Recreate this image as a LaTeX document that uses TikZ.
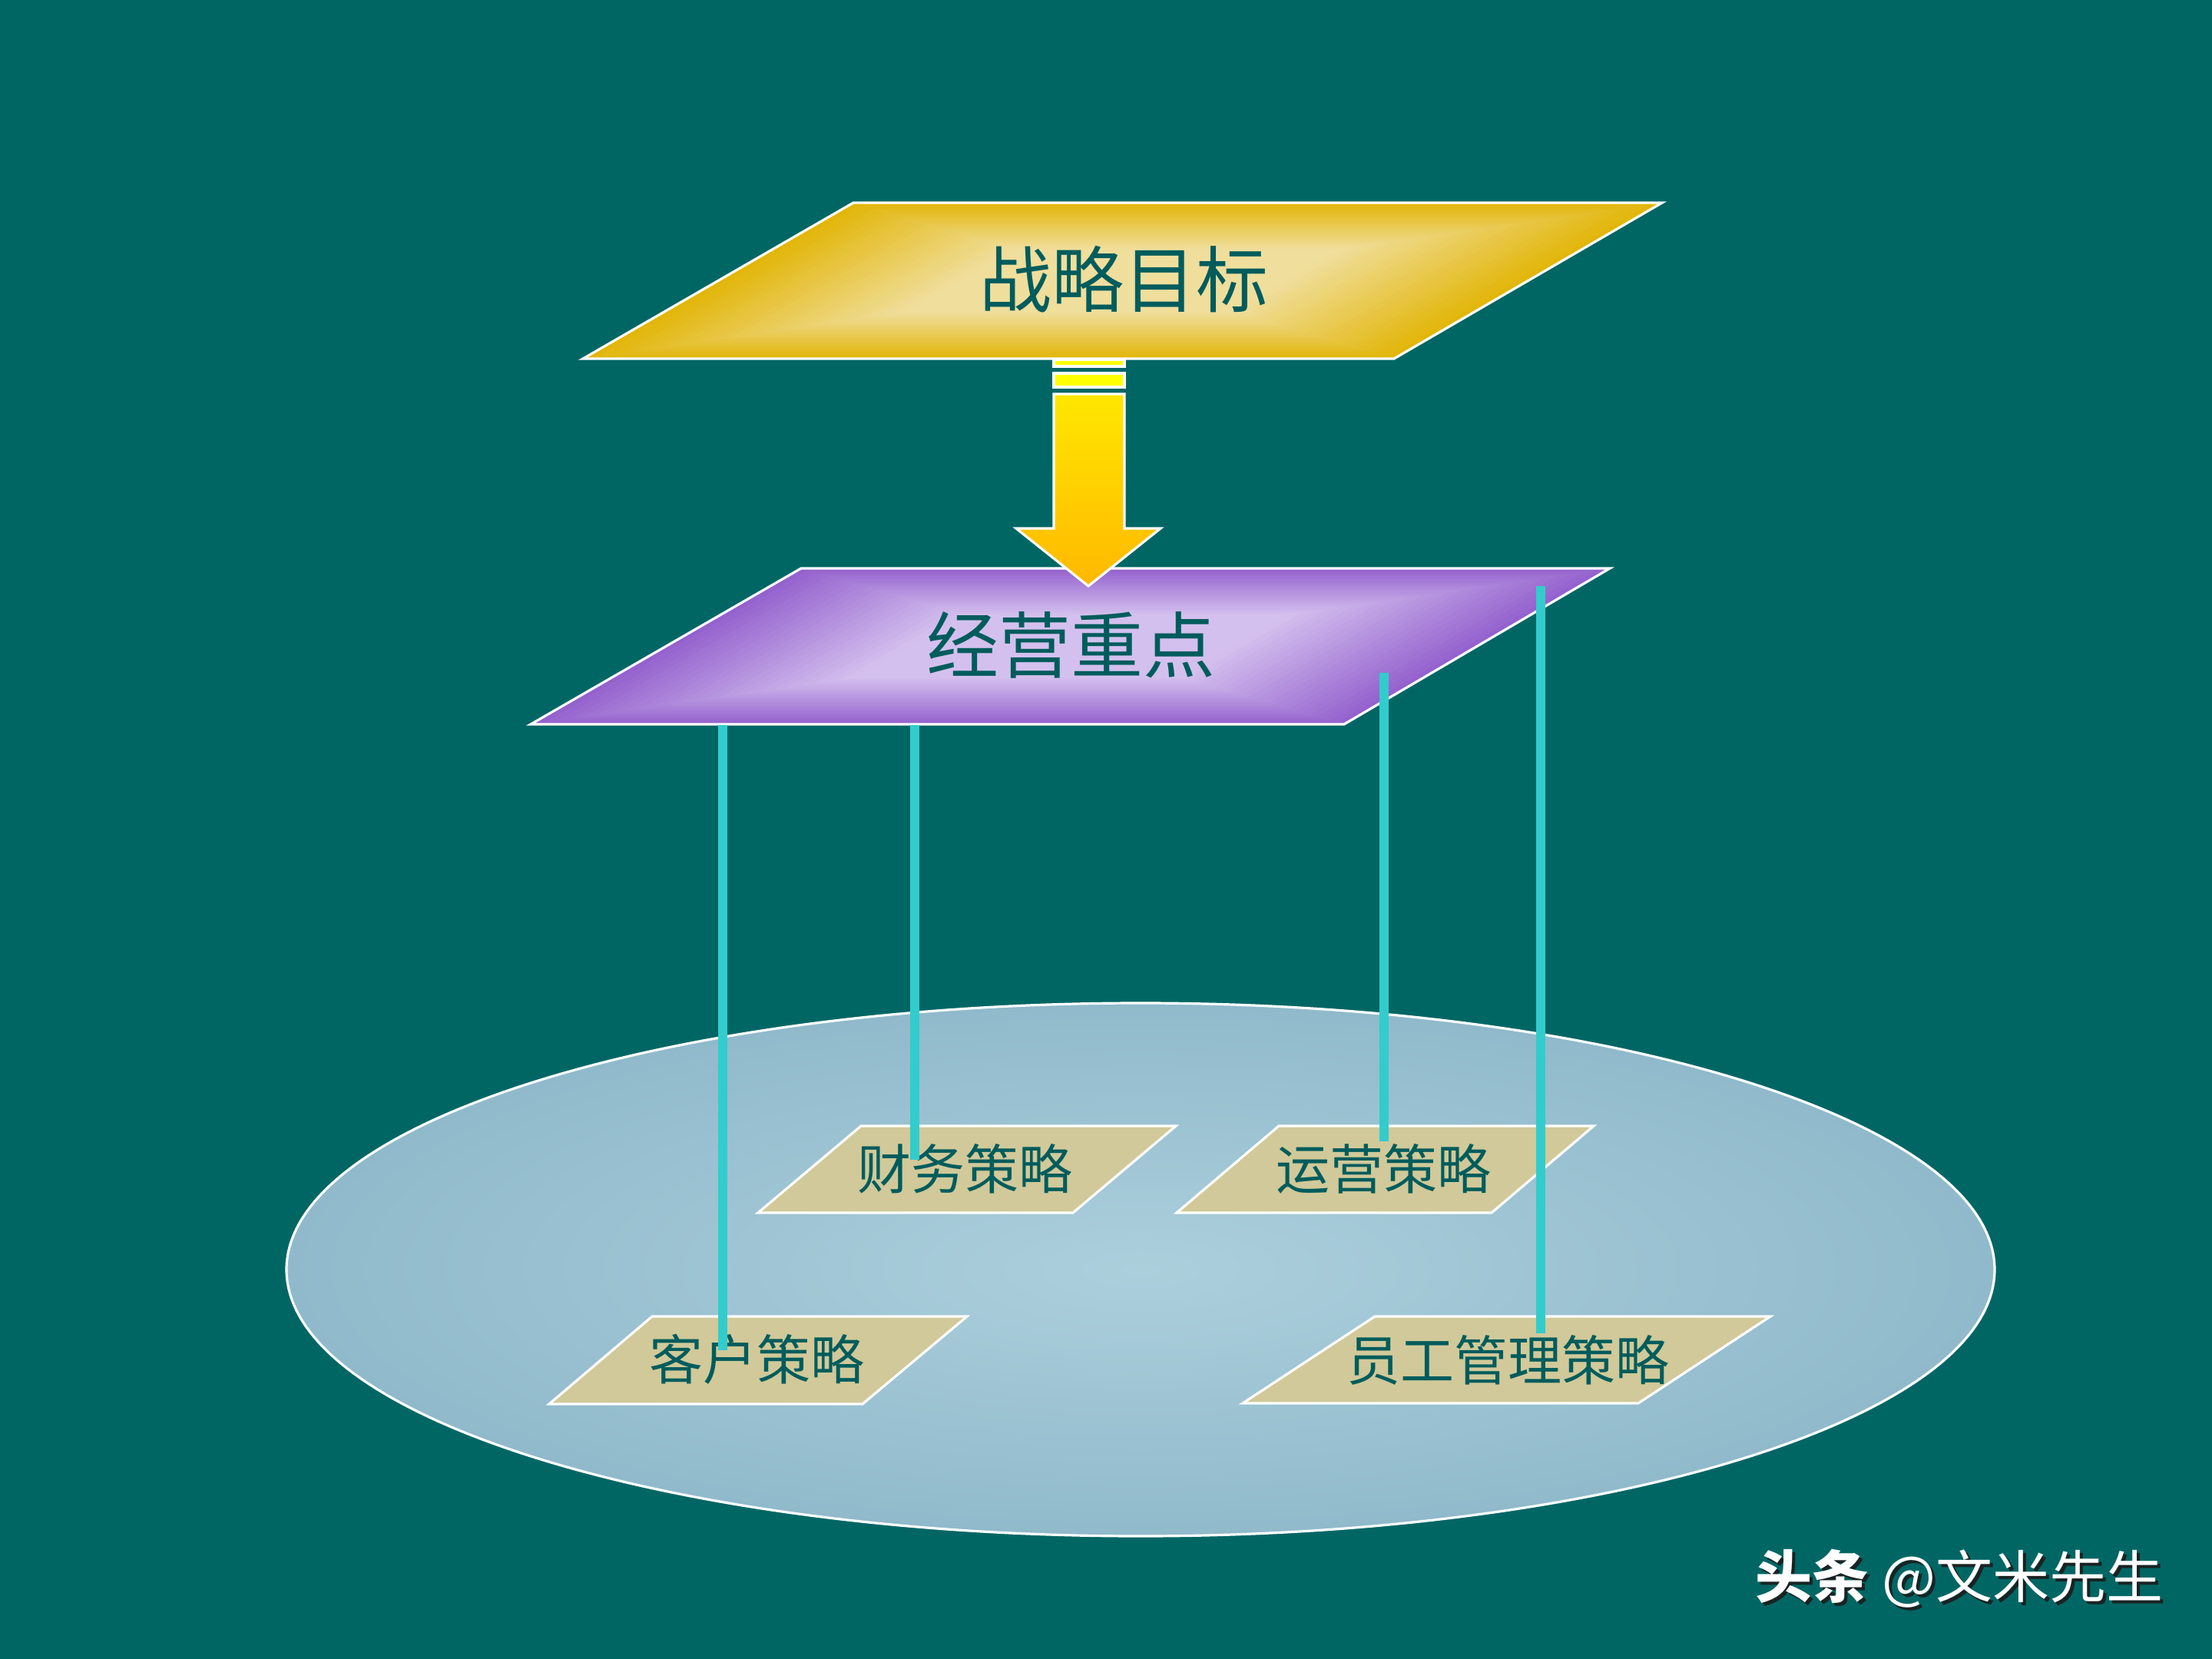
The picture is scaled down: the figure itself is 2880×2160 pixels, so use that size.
\documentclass[tikz,border=0pt]{standalone}
\usepackage{fontspec}
\newfontfamily\cjk{Noto Sans CJK SC}
\definecolor{bg}{RGB}{0,102,100}
\definecolor{txt}{RGB}{0,92,92}
\definecolor{goldc}{RGB}{240,222,156}
\definecolor{golde}{RGB}{226,182,10}
\definecolor{purc}{RGB}{212,192,238}
\definecolor{pure}{RGB}{148,98,206}
\definecolor{ellc}{RGB}{172,207,220}
\definecolor{elle}{RGB}{116,164,186}
\definecolor{tan}{RGB}{209,201,153}
\definecolor{cyanl}{RGB}{51,204,204}
\definecolor{arry}{RGB}{255,255,0}
\definecolor{arro}{RGB}{255,160,0}
\definecolor{shad}{RGB}{25,35,35}
\pgfdeclareradialshading{ellsh}{\pgfpoint{0bp}{0bp}}{color(0bp)=(ellc); color(50bp)=(elle)}
\pgfdeclareverticalshading{arrsh}{100bp}{color(0bp)=(arro); color(100bp)=(arry)}
\tikzset{
  plane/.style={draw=white, line width=0.8pt, line join=miter},
  biglbl/.style={inner sep=0pt, text=txt, font=\cjk\fontsize{23.5pt}{28pt}\selectfont},
  smalllbl/.style={inner sep=0pt, text=txt, font=\cjk\fontsize{17.5pt}{21pt}\selectfont},
  link/.style={draw=cyanl, line width=2.8pt},
  wmark/.style={inner sep=0pt, font=\cjk\fontsize{18.5pt}{22pt}\selectfont},
}
\begin{document}
\begin{tikzpicture}[x=0.25pt,y=-0.25pt]
\useasboundingbox (0,0) rectangle (2880,2160);
\fill[bg] (0,0) rectangle (2880,2160);

% base ellipse
\path[shading=ellsh, draw=white, line width=0.8pt] (1485,1653) ellipse [x radius=1112, y radius=347];

% small planes
\path[fill=tan, plane] (1121,1466) -- (1531,1466) -- (1397,1579) -- (987,1579) -- cycle;
\node[smalllbl] (fin) at (1256,1522) {财务策略};
\path[fill=tan, plane] (1665,1466) -- (2075,1466) -- (1942,1579) -- (1532,1579) -- cycle;
\node[smalllbl] (ops) at (1801,1522) {运营策略};
\path[fill=tan, plane] (849,1714) -- (1259,1714) -- (1123,1828) -- (715,1828) -- cycle;
\node[smalllbl] (cus) at (985,1770) {客户策略};
\path[fill=tan, plane] (1790,1714) -- (2305,1714) -- (2133,1827) -- (1618,1827) -- cycle;
\node[smalllbl] (emp) at (1963,1771) {员工管理策略};

% purple plane (path gradient by nested layers)
\foreach \k in {0,...,39} {
  \pgfmathsetmacro\s{1-\k/40}
  \pgfmathsetmacro\f{min(100,(1-\s)*170)}
  \fill[purc!\f!pure, shift={(1395,841.5)}, scale=\s, shift={(-1395,-841.5)}]
    (1043,740) -- (2096,740) -- (1750,943) -- (691,943) -- cycle;
}
\draw[plane] (1043,740) -- (2096,740) -- (1750,943) -- (691,943) -- cycle;
\node[biglbl] (focus) at (1394,840) {经营重点};

% gold plane
\foreach \k in {0,...,39} {
  \pgfmathsetmacro\s{1-\k/40}
  \pgfmathsetmacro\f{min(100,(1-\s)*170)}
  \fill[goldc!\f!golde, shift={(1462,365.5)}, scale=\s, shift={(-1462,-365.5)}]
    (1111,264) -- (2164,264) -- (1815,467) -- (759,467) -- cycle;
}
\draw[plane] (1111,264) -- (2164,264) -- (1815,467) -- (759,467) -- cycle;
\node[biglbl] (goal) at (1463,364) {战略目标};

% arrow
\path[fill=arry, draw=white, line width=0.8pt] (1372,468) rectangle (1464,477);
\path[fill=arry, draw=white, line width=0.8pt] (1372,486) rectangle (1464,504);
\path[shading=arrsh, draw=white, line width=0.8pt, line join=miter]
  (1372,513) -- (1464,513) -- (1464,688) -- (1511,688) -- (1417,763) -- (1323,688) -- (1372,688) -- cycle;

% connectors
\coordinate (l1a) at (941,944);  \coordinate (l1b) at (941,1758);
\coordinate (l2a) at (1191,944); \coordinate (l2b) at (1191,1510);
\coordinate (l3a) at (1802,876); \coordinate (l3b) at (1802,1486);
\coordinate (l4a) at (2006,763); \coordinate (l4b) at (2006,1736);
\draw[link] (l1a) -- (l1b);
\draw[link] (l2a) -- (l2b);
\draw[link] (l3a) -- (l3b);
\draw[link] (l4a) -- (l4b);

% watermark
\node[wmark, text=shad] (wms) at (2555,2059) {{\bfseries 头条} @文米先生};
\node[wmark, text=white] (wm) at (2551,2055) {{\bfseries 头条} @文米先生};
\end{tikzpicture}
\end{document}
